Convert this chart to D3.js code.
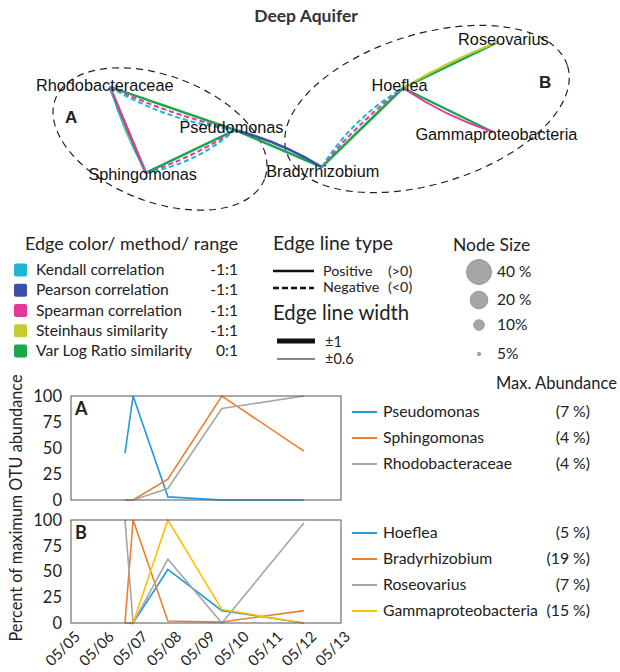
<!DOCTYPE html>
<html>
<head>
<meta charset="utf-8">
<script src="https://cdn.jsdelivr.net/npm/d3@7"></script>
<style>
body { margin: 0; background: #fff; }
svg { display: block; }
</style>
</head>
<body>
<svg id="fig" width="620" height="672"></svg>
<script>
// ---- network data ----
var nodeNames = ['Rhodobacteraceae', 'Pseudomonas', 'Sphingomonas', 'Bradyrhizobium', 'Hoeflea', 'Roseovarius', 'Gammaproteobacteria']
// layout in percent of the network panel
var nodeX = [17.7, 37.9, 23.5, 51.9, 65.0, 80.3, 79.5]
var nodeY = [39.5, 59.1, 78.6, 75.9, 40.0, 19.1, 60.0]

var methods = ['Kendall correlation', 'Pearson correlation', 'Spearman correlation', 'Steinhaus similarity', 'Var Log Ratio similarity']
var methodKeys = ['Kendall', 'Pearson', 'Spearman', 'Steinhaus', 'VLR']
var methodRanges = ['-1:1', '-1:1', '-1:1', '-1:1', '0:1']
var methodColors = ['#1bb6d4', '#3a4fa6', '#e2379b', '#c6cb2f', '#1aa64b']

var edgeSource = [0, 2, 0, 1, 3, 4, 4]
var edgeTarget = [1, 1, 2, 3, 4, 5, 6]
var edgeMethods = [
  ['VLR', 'Spearman', 'Kendall'],
  ['VLR', 'Spearman', 'Kendall'],
  ['Spearman', 'VLR', 'Kendall'],
  ['VLR', 'Pearson'],
  ['VLR', 'Spearman', 'Kendall'],
  ['VLR', 'Steinhaus'],
  ['VLR', 'Spearman']
]
var edgeValues = [
  [0.9, -0.8, -0.8],
  [0.9, -0.8, -0.8],
  [1, 0.6, 0.6],
  [0.9, 0.9],
  [0.9, -0.8, -0.8],
  [0.9, 0.8],
  [0.9, 0.8]
]
var edgeSide = [1, 1, 1, -1, -1, -1, 1]
var edgeSpread = [3.4, 3.4, 1.3, 3.4, 3.4, 2.2, 3.4]

// ---- abundance data ----
var sampleDays = [6.6, 6.84, 7.87, 9.47, 11.9]   // day of May
var dayTicks = [5, 6, 7, 8, 9, 10, 11, 12, 13]
var yTicks = [0, 25, 50, 75, 100]

var namesA = ['Pseudomonas', 'Sphingomonas', 'Rhodobacteraceae']
var maxA = ['(7 %)', '(4 %)', '(4 %)']
var pseudomonasA = [45, 100, 3, 0, 0]
var sphingomonasA = [0, 0, 20, 100, 47]
var rhodobacteraceaeA = [0, 0, 11, 88, 100]

var namesB = ['Hoeflea', 'Bradyrhizobium', 'Roseovarius', 'Gammaproteobacteria']
var maxB = ['(5 %)', '(19 %)', '(7 %)', '(15 %)']
var hoefleaB = [0, 0, 52, 12, 0]
var bradyrhizobiumB = [0, 100, 2, 1, 12]
var roseovariusB = [100, 0, 62, 0, 97]
var gammaB = [0, 0, 100, 13, 0]

var seriesColors = ['#1f9bdb', '#ed7d31', '#a5a5a5', '#ffc000']

var legendFont = 'Lato, "Open Sans", sans-serif'
var netFont = '"Liberation Sans", Arial, sans-serif'

var svg = d3.select('#fig')

// Title
svg.append('text')
  .attr('x', 306).attr('y', 22)
  .attr('text-anchor', 'middle')
  .style('font-family', legendFont).style('font-weight', 'bold').style('font-size', '17.5px')
  .style('fill', '#333')
  .text('Deep Aquifer')

// ---- network ----
var nx = d3.scaleLinear().domain([0, 100]).range([0, 620])
var ny = d3.scaleLinear().domain([0, 100]).range([0, 220])
var widthScale = d3.scaleLinear().domain([0.6, 1]).range([1, 3])
var methodColor = d3.scaleOrdinal().domain(methodKeys).range(methodColors)

var net = svg.append('g')

// cluster ellipses
net.append('ellipse')
  .attr('cx', 160).attr('cy', 139).attr('rx', 112).attr('ry', 63)
  .attr('transform', 'rotate(21,160,139)')
  .style('fill', 'none').style('stroke', '#222').style('stroke-width', 1.2)
  .style('stroke-dasharray', '7,5')
net.append('ellipse')
  .attr('cx', 427).attr('cy', 109).attr('rx', 147).attr('ry', 75)
  .attr('transform', 'rotate(-17,427,109)')
  .style('fill', 'none').style('stroke', '#222').style('stroke-width', 1.2)
  .style('stroke-dasharray', '7,5')

var edgeLines = []
edgeSource.forEach(function(s, i) {
  var t = edgeTarget[i]
  edgeMethods[i].forEach(function(m, k) {
    edgeLines.push({s: s, t: t, method: m, value: edgeValues[i][k], offset: edgeSide[i] * k * edgeSpread[i]})
  })
})

function edgePath(d) {
  var x1 = nx(nodeX[d.s]), y1 = ny(nodeY[d.s])
  var x2 = nx(nodeX[d.t]), y2 = ny(nodeY[d.t])
  var dx = x2 - x1, dy = y2 - y1, len = Math.sqrt(dx * dx + dy * dy)
  var px = -dy / len, py = dx / len
  var cx = (x1 + x2) / 2 + px * d.offset * 2
  var cy = (y1 + y2) / 2 + py * d.offset * 2
  var p = d3.path()
  p.moveTo(x1, y1)
  p.quadraticCurveTo(cx, cy, x2, y2)
  return p.toString()
}

net.selectAll('path.edge')
  .data(edgeLines)
  .enter()
  .append('path')
  .attr('class', 'edge')
  .attr('d', edgePath)
  .style('fill', 'none')
  .style('stroke', function(d) { return methodColor(d.method) })
  .style('stroke-width', function(d) { return widthScale(Math.abs(d.value)) })
  .style('stroke-dasharray', function(d) { return d.value < 0 ? '5,3' : null })

var labelDx = [-5, -3.5, -3, 1, -3.5, 5.5, 3.5]
var labelDy = [4, 3, 7, 10, 3, 3, 8]

net.selectAll('text.node')
  .data(nodeNames)
  .enter()
  .append('text')
  .attr('class', 'node')
  .attr('x', function(d, i) { return nx(nodeX[i]) + labelDx[i] })
  .attr('y', function(d, i) { return ny(nodeY[i]) + labelDy[i] })
  .attr('text-anchor', 'middle')
  .style('font-family', netFont).style('font-size', '16.3px').style('fill', '#111')
  .text(function(d) { return d })

net.append('text').attr('x', 65).attr('y', 123)
  .style('font-family', netFont).style('font-weight', 'bold').style('font-size', '17px').style('fill', '#222')
  .text('A')
net.append('text').attr('x', 539).attr('y', 88)
  .style('font-family', netFont).style('font-weight', 'bold').style('font-size', '17px').style('fill', '#222')
  .text('B')

// ---- legends ----
var leg = svg.append('g').style('font-family', legendFont).style('fill', '#222')

leg.append('text').attr('x', 25).attr('y', 250).style('font-size', '18px').text('Edge color/ method/ range')

var rowY = d3.scaleLinear().domain([0, 4]).range([270, 351])
var rows = leg.selectAll('g.method').data(methods).enter().append('g').attr('class', 'method')
rows.append('rect')
  .attr('x', 14).attr('y', function(d, i) { return rowY(i) - 6.5 })
  .attr('width', 13).attr('height', 13).attr('rx', 2)
  .style('fill', function(d, i) { return methodColors[i] })
rows.append('text')
  .attr('x', 36).attr('y', function(d, i) { return rowY(i) + 5 })
  .style('font-size', '15.6px')
  .text(function(d) { return d })
rows.append('text')
  .attr('x', 238).attr('y', function(d, i) { return rowY(i) + 5 })
  .attr('text-anchor', 'end')
  .style('font-size', '15.6px')
  .text(function(d, i) { return methodRanges[i] })

leg.append('text').attr('x', 273).attr('y', 250).style('font-size', '19.4px').text('Edge line type')
leg.append('line').attr('x1', 273).attr('x2', 314).attr('y1', 271).attr('y2', 271)
  .style('stroke', '#111').style('stroke-width', 2.5)
leg.append('line').attr('x1', 273).attr('x2', 314).attr('y1', 288).attr('y2', 288)
  .style('stroke', '#111').style('stroke-width', 2.5).style('stroke-dasharray', '6,3')
var signLabels = ['Positive', 'Negative']
var signRanges = ['(>0)', '(<0)']
leg.selectAll('text.sign').data(signLabels).enter().append('text')
  .attr('class', 'sign')
  .attr('x', 323).attr('y', function(d, i) { return 276 + i * 16 })
  .style('font-size', '14.3px')
  .text(function(d) { return d })
leg.selectAll('text.signr').data(signRanges).enter().append('text')
  .attr('class', 'signr')
  .attr('x', 388).attr('y', function(d, i) { return 276 + i * 16 })
  .style('font-size', '14.3px')
  .text(function(d) { return d })

leg.append('text').attr('x', 273).attr('y', 320).style('font-size', '20.3px').text('Edge line width')
leg.append('line').attr('x1', 277).attr('x2', 315).attr('y1', 341).attr('y2', 341)
  .style('stroke', '#111').style('stroke-width', 5)
leg.append('line').attr('x1', 277).attr('x2', 315).attr('y1', 359).attr('y2', 359)
  .style('stroke', '#111').style('stroke-width', 1.2)
leg.append('text').attr('x', 325).attr('y', 347).style('font-size', '14.5px').text('\u00b11')
leg.append('text').attr('x', 325).attr('y', 364).style('font-size', '14.5px').text('\u00b10.6')

var sizeLabels = ['40 %', '20 %', '10%', '5%']
var sizeValues = [40, 20, 10, 5]
var sizeY = [272, 300, 325, 354]
var rScale = d3.scaleSqrt().domain([0, 40]).range([0, 12.5])
leg.append('text').attr('x', 453).attr('y', 251).style('font-size', '17.5px').text('Node Size')
leg.selectAll('circle.size').data(sizeValues).enter().append('circle')
  .attr('class', 'size')
  .attr('cx', 479).attr('cy', function(d, i) { return sizeY[i] })
  .attr('r', function(d) { return d === 5 ? 1.7 : rScale(d) * (d === 10 ? 0.85 : 1) })
  .style('fill', '#a6a6a6').style('stroke', '#8c8c8c').style('stroke-width', 0.8)
leg.selectAll('text.size').data(sizeLabels).enter().append('text')
  .attr('class', 'size')
  .attr('x', 497).attr('y', function(d, i) { return sizeY[i] + 5 })
  .style('font-size', '15.5px')
  .text(function(d) { return d })

// ---- abundance charts ----
var left = 71, right = 341
var x = d3.scaleLinear().domain([5, 13]).range([left, right])

function drawChart(top, bottom, letter, series, names, maxes, legendY) {
  var y = d3.scaleLinear().domain([0, 100]).range([bottom, top])
  var g = svg.append('g')

  var line = d3.line()
    .x(function(d, i) { return x(sampleDays[i]) })
    .y(function(d) { return y(d) })

  g.selectAll('path.series').data(series).enter().append('path')
    .attr('class', 'series')
    .attr('d', line)
    .style('fill', 'none')
    .style('stroke', function(d, i) { return seriesColors[i] })
    .style('stroke-width', 1.6)

  g.append('rect')
    .attr('x', left).attr('y', top).attr('width', right - left).attr('height', bottom - top)
    .style('fill', 'none').style('stroke', '#555').style('stroke-width', 1)

  var yAxis = d3.axisLeft(y).tickValues(yTicks).tickSize(0).tickPadding(9)
  var ya = g.append('g').attr('transform', 'translate(' + left + ',0)').call(yAxis)
  ya.select('.domain').remove()
  ya.selectAll('text').style('font-family', legendFont).style('font-size', '16.5px').style('fill', '#222')

  g.append('text').attr('x', left + 4).attr('y', top + 19)
    .style('font-family', legendFont).style('font-weight', 'bold').style('font-size', '18px').style('fill', '#222')
    .text(letter)

  // legend
  var lg = g.selectAll('g.leg').data(names).enter().append('g').attr('class', 'leg')
  lg.append('line')
    .attr('x1', 352).attr('x2', 377)
    .attr('y1', function(d, i) { return legendY(i) }).attr('y2', function(d, i) { return legendY(i) })
    .style('stroke', function(d, i) { return seriesColors[i] }).style('stroke-width', 2)
  lg.append('text')
    .attr('x', 383).attr('y', function(d, i) { return legendY(i) + 5 })
    .style('font-family', legendFont).style('font-size', '15.8px').style('fill', '#222')
    .text(function(d) { return d })
  lg.append('text')
    .attr('x', 590).attr('y', function(d, i) { return legendY(i) + 5 })
    .attr('text-anchor', 'end')
    .style('font-family', legendFont).style('font-size', '15.8px').style('fill', '#222')
    .text(function(d, i) { return maxes[i] })
  return g
}

drawChart(396, 500, 'A', [pseudomonasA, sphingomonasA, rhodobacteraceaeA], namesA, maxA,
  d3.scaleLinear().domain([0, 1]).range([412, 438]))
var chartB = drawChart(520, 623, 'B', [hoefleaB, bradyrhizobiumB, roseovariusB, gammaB], namesB, maxB,
  d3.scaleLinear().domain([0, 1]).range([533, 559]))

// x axis (dates)
var xAxis = d3.axisBottom(x).tickValues(dayTicks).tickSize(0)
  .tickFormat(function(d) { return '05/' + d3.format('02d')(d) })
var xa = chartB.append('g').attr('transform', 'translate(0,623)').call(xAxis)
xa.select('.domain').remove()
xa.selectAll('text')
  .attr('text-anchor', 'end')
  .attr('dy', '0.35em')
  .attr('transform', 'translate(6,11) rotate(-45)')
  .attr('y', 0)
  .style('font-family', legendFont).style('font-size', '15px').style('fill', '#222')

svg.append('text')
  .attr('transform', 'translate(22,508) rotate(-90)')
  .attr('text-anchor', 'middle')
  .style('font-family', legendFont).style('font-size', '16.3px').style('fill', '#222')
  .text('Percent of maximum OTU abundance')

svg.append('text').attr('x', 496).attr('y', 389)
  .style('font-family', legendFont).style('font-size', '16.5px').style('fill', '#222')
  .text('Max. Abundance')
</script>
</body>
</html>
